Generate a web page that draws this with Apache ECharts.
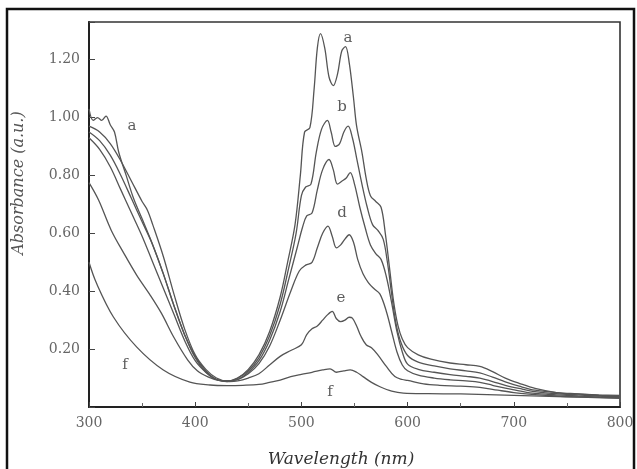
<!DOCTYPE html>
<html>
<head>
<meta charset="utf-8">
<script src="https://cdn.jsdelivr.net/npm/echarts@6/dist/echarts.min.js"></script>
<style>
  html, body { margin: 0; padding: 0; background: #fff; }
  #chart { width: 637px; height: 469px; }
</style>
</head>
<body>
<div id="chart"></div>
<script>
// Absorption spectra a-f, [wavelength nm, absorbance a.u.]
const curveA = [[300,1.03],[304,0.99],[308,1.00],[312,0.99],[316,1.005],[320,0.975],[324,0.95],[328,0.88],[335,0.80],[342,0.72],[350,0.65],[360,0.56],[370,0.46],[380,0.35],[390,0.25],[400,0.175],[410,0.125],[420,0.095],[430,0.088],[440,0.10],[450,0.13],[460,0.18],[470,0.26],[480,0.38],[487,0.50],[494,0.63],[499,0.80],[503,0.95],[508,0.965],[512,1.10],[515,1.24],[518,1.29],[522,1.24],[526,1.14],[530,1.11],[534,1.15],[538,1.23],[541.5,1.245],[545,1.19],[549,1.07],[552,0.97],[557,0.88],[561,0.79],[565,0.73],[570,0.71],[575,0.69],[579,0.60],[583,0.48],[587,0.36],[591,0.28],[595,0.235],[600,0.205],[610,0.18],[622,0.165],[640,0.152],[655,0.146],[668,0.14],[680,0.122],[692,0.10],[705,0.082],[720,0.064],[740,0.05],[760,0.045],[780,0.042],[800,0.04]];
const curveB = [[300,0.97],[310,0.95],[320,0.91],[330,0.85],[340,0.78],[350,0.71],[355,0.68],[360,0.63],[370,0.52],[380,0.39],[390,0.27],[400,0.18],[410,0.13],[420,0.10],[430,0.09],[440,0.10],[450,0.125],[460,0.17],[470,0.245],[480,0.355],[488,0.48],[495,0.60],[500,0.73],[504,0.76],[509,0.77],[514,0.88],[519,0.96],[524.5,0.99],[528,0.95],[532,0.90],[536,0.91],[540,0.95],[544,0.97],[548,0.93],[552,0.86],[557,0.77],[562,0.69],[567,0.63],[572,0.61],[577,0.58],[581,0.50],[585,0.39],[589,0.29],[594,0.22],[600,0.178],[610,0.155],[625,0.142],[640,0.132],[655,0.125],[668,0.118],[680,0.103],[692,0.087],[705,0.072],[720,0.058],[740,0.05],[760,0.045],[780,0.04],[800,0.038]];
const curveC = [[300,0.95],[310,0.92],[320,0.87],[330,0.80],[340,0.72],[350,0.64],[360,0.56],[370,0.46],[380,0.35],[390,0.25],[400,0.17],[410,0.12],[420,0.095],[430,0.09],[440,0.095],[450,0.12],[460,0.16],[470,0.23],[480,0.33],[488,0.44],[496,0.55],[501,0.62],[505,0.66],[510,0.67],[515,0.75],[520,0.82],[526,0.855],[530,0.82],[534,0.77],[538,0.78],[542,0.79],[546,0.81],[550,0.77],[555,0.69],[560,0.62],[565,0.56],[570,0.53],[575,0.51],[580,0.45],[585,0.36],[590,0.26],[595,0.19],[600,0.148],[610,0.13],[625,0.12],[640,0.112],[655,0.106],[668,0.10],[680,0.088],[692,0.075],[705,0.064],[720,0.053],[740,0.046],[760,0.042],[780,0.038],[800,0.036]];
const curveD = [[300,0.93],[310,0.89],[320,0.83],[330,0.75],[340,0.67],[350,0.59],[360,0.50],[370,0.41],[380,0.32],[390,0.23],[400,0.16],[410,0.12],[420,0.095],[430,0.09],[440,0.095],[450,0.115],[460,0.15],[470,0.21],[480,0.30],[490,0.40],[498,0.47],[504,0.49],[510,0.50],[515,0.55],[520,0.60],[525,0.625],[529,0.59],[533,0.55],[537,0.56],[541,0.58],[545,0.595],[549,0.57],[553,0.51],[558,0.46],[563,0.43],[568,0.41],[574,0.39],[580,0.33],[585,0.26],[590,0.19],[595,0.145],[600,0.125],[610,0.11],[625,0.10],[640,0.094],[655,0.09],[668,0.085],[680,0.075],[692,0.065],[705,0.056],[720,0.047],[740,0.042],[760,0.038],[780,0.035],[800,0.034]];
const curveE = [[300,0.775],[309,0.715],[321,0.61],[333,0.53],[345,0.455],[357,0.39],[368,0.325],[380,0.24],[393,0.162],[402,0.125],[412,0.104],[422,0.092],[432,0.088],[440,0.09],[450,0.10],[460,0.115],[470,0.145],[480,0.175],[490,0.195],[500,0.215],[505,0.25],[510,0.27],[515,0.28],[520,0.30],[525,0.32],[529,0.33],[533,0.305],[537,0.295],[541,0.30],[545,0.31],[548,0.307],[552,0.28],[556,0.245],[561,0.215],[566,0.205],[572,0.18],[580,0.14],[588,0.105],[595,0.095],[600,0.092],[615,0.08],[630,0.075],[650,0.072],[668,0.068],[685,0.058],[700,0.05],[720,0.043],[740,0.038],[760,0.035],[780,0.033],[800,0.032]];
const curveF = [[300,0.50],[307,0.428],[323,0.311],[345,0.207],[370,0.128],[395,0.086],[414,0.076],[430,0.074],[445,0.075],[460,0.078],[470,0.085],[480,0.093],[490,0.105],[500,0.113],[510,0.12],[520,0.128],[527,0.132],[533,0.12],[540,0.125],[546,0.128],[552,0.12],[558,0.105],[566,0.085],[574,0.07],[585,0.055],[596,0.048],[620,0.046],[650,0.045],[700,0.04],[750,0.035],[800,0.03]];

// Curve letters, [wavelength, absorbance, letter]
const curveLabels = [[543.9,1.275,'a'],[340.5,0.971,'a'],[538.2,1.036,'b'],[538.2,0.670,'d'],[537.3,0.3765,'e'],[527,0.052,'f'],[333.9,0.145,'f']];

// Axis ranges and ticks
const xMin = 300, xMax = 800, xStep = 100;
const yMin = 0, yMax = 1.33, yStep = 0.2;

const serif = '"DejaVu Serif", "Liberation Serif", serif';
const chart = echarts.init(document.getElementById('chart'), null, { renderer: 'canvas' });

const lineSeries = (name, data) => ({
  name, type: 'line', data, showSymbol: false, smooth: 0.35,
  lineStyle: { color: '#555', width: 1.3 }, z: 3, silent: true
});

chart.setOption({
  animation: false,
  backgroundColor: '#fff',
  grid: { left: 89, right: 17, top: 22, bottom: 62, show: true, borderColor: '#333', borderWidth: 1.6 },
  xAxis: {
    type: 'value', min: xMin, max: xMax, interval: xStep,
    axisLine: { show: true, lineStyle: { color: '#222', width: 2 } },
    axisTick: { show: true, inside: true, length: 5, lineStyle: { color: '#444' } },
    minorTick: { show: true, splitNumber: 2, length: 4, lineStyle: { color: '#666' } },
    axisLabel: { margin: 9, fontFamily: serif, fontSize: 14, color: '#666' },
    splitLine: { show: false }
  },
  yAxis: {
    type: 'value', min: yMin, max: yMax, interval: yStep,
    axisLine: { show: true, lineStyle: { color: '#222', width: 2 } },
    axisTick: { show: true, inside: true, length: 6, lineStyle: { color: '#444' } },
    axisLabel: {
      margin: 9, fontFamily: serif, fontSize: 14, color: '#666',
      formatter: v => {
        const k = Math.round(v / yStep);
        return (k > 0 && Math.abs(v - k * yStep) < 1e-6) ? v.toFixed(2) : '';
      }
    },
    splitLine: { show: false }
  },
  series: [
    lineSeries('a', curveA),
    lineSeries('b', curveB),
    lineSeries('c', curveC),
    lineSeries('d', curveD),
    lineSeries('e', curveE),
    lineSeries('f', curveF),
    {
      type: 'scatter', data: curveLabels, symbolSize: 1, itemStyle: { color: 'rgba(0,0,0,0)' },
      silent: true, z: 5,
      label: {
        show: true, position: 'inside', formatter: p => p.data[2],
        fontFamily: serif, fontSize: 15, color: '#333'
      }
    }
  ],
  graphic: [
    { type: 'rect', shape: { x: 7, y: 9, width: 627, height: 480 },
      style: { fill: null, stroke: '#111', lineWidth: 2.5 }, silent: true },
    { type: 'text', x: 19, y: 183, rotation: Math.PI / 2,
      style: { text: 'Absorbance (a.u.)', font: 'italic 16px ' + serif, fill: '#555',
               textAlign: 'center', textVerticalAlign: 'middle' }, silent: true },
    { type: 'text', x: 341, y: 460,
      style: { text: 'Wavelength (nm)', font: 'italic 17px ' + serif, fill: '#333',
               textAlign: 'center', textVerticalAlign: 'middle' }, silent: true }
  ]
});
</script>
</body>
</html>
